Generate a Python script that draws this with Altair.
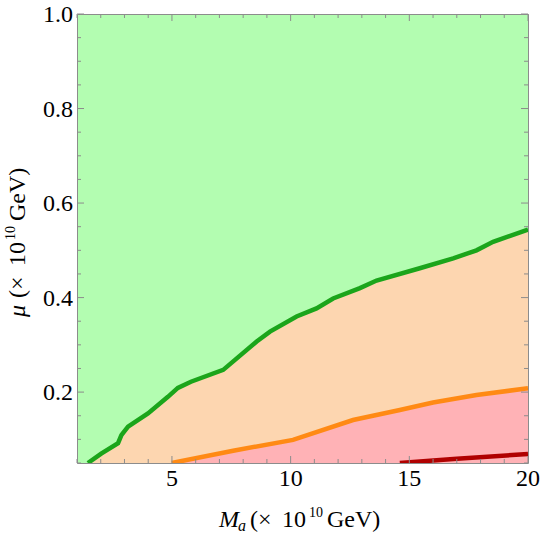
import altair as alt
import pandas as pd

# ---- data ----
green_x = [1.46, 2.02, 2.73, 2.87, 3.15, 3.99, 4.83, 5.25, 5.80, 7.16, 8.57, 9.13,
           10.25, 11.09, 11.79, 12.92, 13.62, 15.44, 16.85, 17.83, 18.53, 20.0]
green_y = [0.050, 0.070, 0.092, 0.109, 0.127, 0.155, 0.190, 0.209, 0.222, 0.247, 0.307, 0.328,
           0.360, 0.377, 0.398, 0.420, 0.436, 0.462, 0.483, 0.500, 0.518, 0.544]

orange_x = [4.99, 7.58, 10.10, 12.63, 14.60, 16.00, 17.83, 20.0]
orange_y = [0.050, 0.076, 0.099, 0.141, 0.162, 0.178, 0.194, 0.208]

red_x = [14.6, 17.0, 20.0]
red_y = [0.050, 0.059, 0.069]

x_labels = [5, 10, 15, 20]
y_labels = [0.2, 0.4, 0.6, 0.8, 1.0]
x_major = [5, 10, 15, 20]
x_minor = [1, 2, 3, 4, 6, 7, 8, 9, 11, 12, 13, 14, 16, 17, 18, 19]
y_major = [0.2, 0.4, 0.6, 0.8, 1.0]
y_minor = [0.05, 0.1, 0.15, 0.25, 0.3, 0.35, 0.45, 0.5, 0.55, 0.65, 0.7, 0.75,
           0.85, 0.9, 0.95]

W, H = 451, 449
FONT = "Liberation Serif"
FS = 24

xs = alt.Scale(domain=[1, 20], nice=False, zero=False)
ys = alt.Scale(domain=[0.05, 1.0], nice=False, zero=False)


def X(f):
    return alt.X(f, scale=xs, axis=None)


def Y(f):
    return alt.Y(f, scale=ys, axis=None)


gdf = pd.DataFrame({"x": green_x, "y": green_y})
odf = pd.DataFrame({"x": orange_x, "y": orange_y})
rdf = pd.DataFrame({"x": red_x, "y": red_y})

area_orange = alt.Chart(gdf).mark_area(color="#fdd6b0", opacity=1, clip=True).encode(
    x=X("x:Q"), y=Y("y:Q"), y2=alt.datum(0.05),
)
area_pink = alt.Chart(odf).mark_area(color="#ffb2b6", opacity=1, clip=True).encode(
    x=X("x:Q"), y=Y("y:Q"), y2=alt.datum(0.05),
)


def line(df, color):
    return alt.Chart(df).mark_line(color=color, strokeWidth=4.5, clip=True).encode(
        x=X("x:Q"), y=Y("y:Q"),
    )


l_green = line(gdf, "#1ba51b")
l_orange = line(odf, "#ff8a14")
l_red = line(rdf, "#b00000")

TICK = "#8c8c8c"


def xticks(vals, length):
    df = pd.DataFrame({"x": vals})
    b = alt.Chart(df).mark_rule(color=TICK, strokeWidth=1).encode(
        x=X("x:Q"), y=alt.value(H), y2=alt.value(H - length))
    t = alt.Chart(df).mark_rule(color=TICK, strokeWidth=1).encode(
        x=X("x:Q"), y=alt.value(0), y2=alt.value(length))
    return b + t


def yticks(vals, length):
    df = pd.DataFrame({"y": vals})
    l = alt.Chart(df).mark_rule(color=TICK, strokeWidth=1).encode(
        y=Y("y:Q"), x=alt.value(0), x2=alt.value(length))
    r = alt.Chart(df).mark_rule(color=TICK, strokeWidth=1).encode(
        y=Y("y:Q"), x=alt.value(W), x2=alt.value(W - length))
    return l + r


# tick labels as text marks positioned through the scales
xlab_df = pd.DataFrame({"x": x_labels, "lab": [str(v) for v in x_labels]})
ylab_df = pd.DataFrame({"y": y_labels, "lab": [f"{v:.1f}" for v in y_labels]})
xlabels = alt.Chart(xlab_df).mark_text(
    font=FONT, fontSize=FS, color="black", align="center", baseline="alphabetic"
).encode(x=X("x:Q"), y=alt.value(H + 23), text="lab:N")
ylabels = alt.Chart(ylab_df).mark_text(
    font=FONT, fontSize=FS, color="black", align="right", baseline="alphabetic", dy=8
).encode(y=Y("y:Q"), x=alt.value(-4), text="lab:N")

one = alt.Data(values=[{"a": 1}])


def txt(s, x, y, size=FS, italic=False, angle=0):
    kw = dict(text=s, font=FONT, fontSize=size, align="left", baseline="alphabetic",
              color="black")
    if italic:
        kw["fontStyle"] = "italic"
    if angle:
        kw["angle"] = angle
    return alt.Chart(one).mark_text(**kw).encode(x=alt.value(x), y=alt.value(y))


OX, OY = 77, 14
XB = 527 - OY
xtitle = (txt("M", 219 - OX, XB, italic=True)
          + txt("a", 238 - OX, XB + 4, size=16, italic=True)
          + txt("(", 250 - OX, XB)
          + txt("×", 258 - OX, XB)
          + txt("10", 282 - OX, XB)
          + txt("10", 309 - OX, XB - 10, size=14)
          + txt("GeV)", 327 - OX, XB))
YB = 25 - OX
ytitle = (txt("μ", YB, 317 - OY, italic=True, angle=270)
          + txt("(", YB, 298 - OY, angle=270)
          + txt("×", YB, 290 - OY, angle=270)
          + txt("10", YB, 266 - OY, angle=270)
          + txt("10", YB - 10, 240 - OY, size=14, angle=270)
          + txt("GeV)", YB, 221 - OY, angle=270))

chart = alt.layer(
    area_orange, area_pink, l_green, l_orange, l_red,
    xticks(x_major, 7), xticks(x_minor, 4), yticks(y_major, 7), yticks(y_minor, 4),
    xlabels, ylabels, xtitle, ytitle,
).properties(
    width=W, height=H,
    padding={"left": 77, "top": 14, "right": 14, "bottom": 71},
    autosize=alt.AutoSizeParams(type="none"),
    background="white",
).configure_view(
    fill="#b3fdb1", stroke="#8c8c8c", strokeWidth=1,
)

chart.save("out.html", embed_options={"renderer": "svg", "actions": False})
